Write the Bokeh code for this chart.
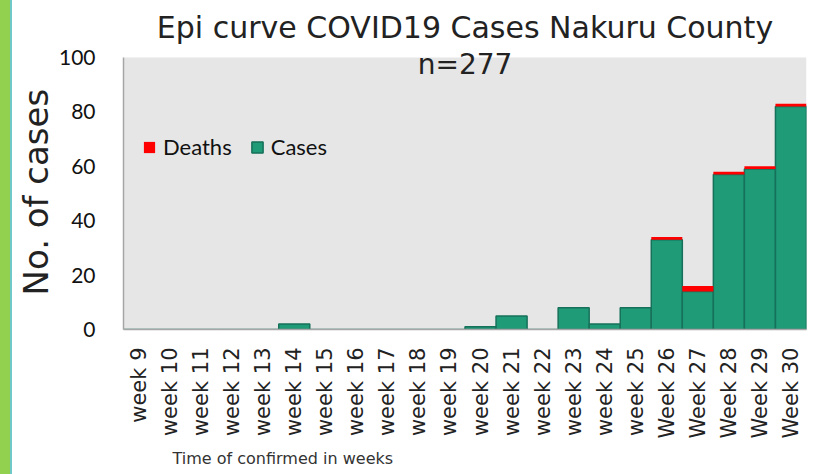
import math
from bokeh.plotting import figure
from bokeh.models import (FixedTicker, Range1d, Title, Legend, LegendItem, ColumnDataSource,
                          Label, BoxAnnotation)
from bokeh.embed import file_html
from bokeh.resources import INLINE

weeks = ["week 9", "week 10", "week 11", "week 12", "week 13", "week 14", "week 15",
         "week 16", "week 17", "week 18", "week 19", "week 20", "week 21", "week 22",
         "week 23", "week 24", "week 25", "Week 26", "Week 27", "Week 28", "Week 29", "Week 30"]
cases = [0, 0, 0, 0, 0, 2, 0, 0, 0, 0, 0, 1, 5, 0, 8, 2, 8, 33, 14, 57, 59, 82]
deaths = [0, 0, 0, 0, 0, 0, 0, 0, 0, 0, 0, 0, 0, 0, 0, 0, 0, 1, 2, 1, 1, 1]
y_ticks = [0, 20, 40, 60, 80, 100]
title_text = "Epi curve COVID19 Cases Nakuru County"
subtitle_text = "n=277"
y_title = "No. of cases"
x_title = "Time of confirmed in weeks"

FONT = "DejaVu Sans"
n = len(weeks)
idx = list(range(n))
tops_d = [c + d for c, d in zip(cases, deaths)]
y_max = y_ticks[-1]

src = ColumnDataSource(dict(left=idx, right=[i + 1 for i in idx], cases=cases,
                            deaths_top=tops_d, zero=[0] * n))

# frame extends above the value axis so that the "n=277" line can overlap the plot area
p = figure(width=813, height=474, output_backend="svg", toolbar_location=None,
           x_range=Range1d(0, n), y_range=Range1d(0, y_max * 285 / 272),
           min_border_left=123, min_border_right=7, min_border_top=44, min_border_bottom=145,
           background_fill_color=None, border_fill_color=None,
           outline_line_color=None)

p.add_layout(BoxAnnotation(left=0, right=n, bottom=0, top=y_max, fill_color="#e6e6e6",
                           fill_alpha=1, line_color=None, level="underlay"))

r_cases = p.quad(left="left", right="right", bottom="zero", top="cases", source=src,
                 fill_color="#1f9b78", line_color="#17715a", line_width=1.5)
r_deaths = p.quad(left="left", right="right", bottom="cases", top="deaths_top", source=src,
                  fill_color="#ff0000", line_color=None)

p.xgrid.visible = False
p.ygrid.visible = False

# x axis
p.xaxis.ticker = FixedTicker(ticks=[i + 0.5 for i in idx])
p.xaxis.major_label_overrides = {i + 0.5: w for i, w in zip(idx, weeks)}
p.xaxis.major_label_orientation = math.pi / 2
p.xaxis.major_label_text_font = FONT
p.xaxis.major_label_text_font_size = "21px"
p.xaxis.major_label_text_color = "#222222"
p.xaxis.major_label_standoff = 12
p.xaxis.major_tick_line_color = None
p.xaxis.minor_tick_line_color = None
p.xaxis.axis_line_color = "#a6a6a6"
p.xaxis.axis_line_width = 1.5

# y axis
p.yaxis.ticker = FixedTicker(ticks=y_ticks)
p.yaxis.bounds = (0, y_max)
p.yaxis.major_label_text_font = "Lato"
p.yaxis.major_label_text_font_size = "21px"
p.yaxis.major_label_text_color = "#111111"
p.yaxis.major_label_standoff = 22
p.yaxis.major_tick_line_color = None
p.yaxis.minor_tick_line_color = None
p.yaxis.axis_line_color = "#a6a6a6"
p.yaxis.axis_line_width = 1.5

ylab = Title(text=y_title, align="left", offset=34, standoff=0, text_font=FONT,
             text_font_size="34px", text_font_style="normal", text_color="#222222")
p.add_layout(ylab, "left")

# titles
t = Title(text=title_text, align="center", text_font=FONT,
          text_font_size="30px", text_font_style="normal", text_color="#222222", standoff=0)
p.add_layout(t, "above")

p.add_layout(Label(x=n / 2, y=97.4, text=subtitle_text, text_align="center",
                   text_baseline="middle", text_font=FONT,
                   text_font_size="28px", text_color="#222222"))

xt = Title(text=x_title, align="left", offset=49,
           text_font=FONT, text_font_size="16px", text_font_style="normal",
           text_color="#333333")
p.add_layout(xt, "below")

legend = Legend(items=[LegendItem(label="Deaths", renderers=[r_deaths]),
                       LegendItem(label="Cases", renderers=[r_cases])],
                orientation="horizontal", location=(19, 169),
                background_fill_alpha=0, border_line_color=None,
                label_text_font="Lato", label_text_font_size="22px",
                label_text_color="#111111", glyph_width=14, glyph_height=14,
                spacing=18, label_standoff=7)
p.add_layout(legend, "center")

bg = ("background: linear-gradient(to right, #92d050 0px, #92d050 10px, #6fc9c9 10px, "
      "#6fc9c9 12px, white 12px, white 100%);")
html = file_html(p, INLINE)
html = html.replace("</head>", "<style>html, body { " + bg + " }</style></head>", 1)
open("out.html", "w").write(html)
